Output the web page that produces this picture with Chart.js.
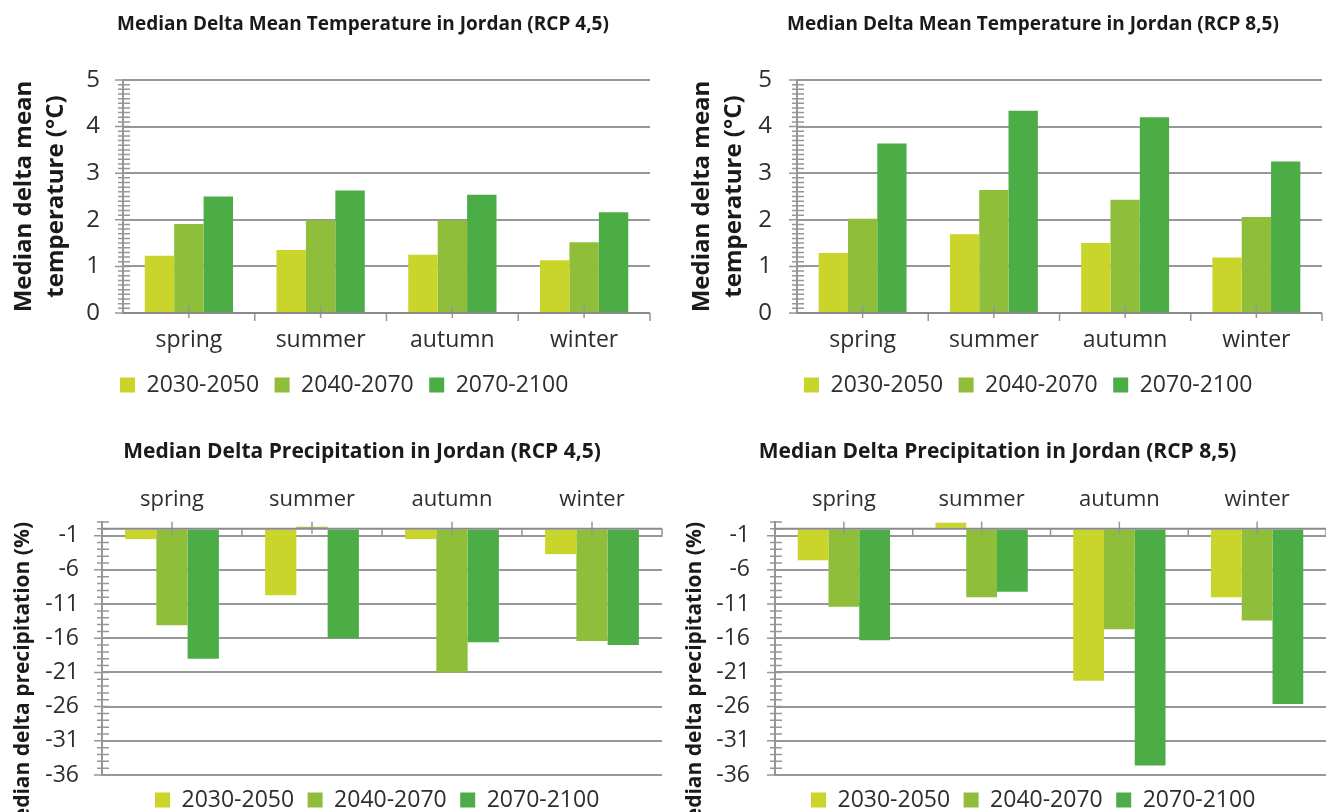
<!DOCTYPE html>
<html>
<head>
<meta charset="utf-8">
<title>Median delta temperature and precipitation in Jordan</title>
<script src="https://cdn.jsdelivr.net/npm/chart.js@4.4.1/dist/chart.umd.min.js"></script>
<style>
  html, body { margin: 0; padding: 0; background: #fff; }
  body { width: 1326px; height: 812px; position: relative; overflow: hidden; }
  .panel { position: absolute; overflow: hidden; }
  .panel canvas { position: absolute; left: 0; top: 0; }
  #p1 { left: 0; top: 0; width: 663px; height: 420px; }
  #p2 { left: 663px; top: 0; width: 663px; height: 420px; }
  #p3 { left: 0; top: 420px; width: 663px; height: 392px; }
  #p4 { left: 663px; top: 420px; width: 663px; height: 392px; }
</style>
</head>
<body>
<div class="panel" id="p1"><canvas id="c1" width="663" height="410"></canvas></div>
<div class="panel" id="p2"><canvas id="c2" width="663" height="410"></canvas></div>
<div class="panel" id="p3"><canvas id="c3" width="663" height="405"></canvas></div>
<div class="panel" id="p4"><canvas id="c4" width="663" height="405"></canvas></div>
<script>
const seasons = ['spring', 'summer', 'autumn', 'winter'];
const periods = ['2030-2050', '2040-2070', '2070-2100'];
const periodColors = ['#c9d52b', '#8fbe3b', '#4cad47'];

// median delta mean temperature (°C)
const temp45_2030 = [1.23, 1.35, 1.25, 1.13];
const temp45_2040 = [1.91, 1.99, 1.99, 1.52];
const temp45_2070 = [2.50, 2.63, 2.54, 2.16];
const temp85_2030 = [1.29, 1.69, 1.50, 1.19];
const temp85_2040 = [2.02, 2.64, 2.43, 2.06];
const temp85_2070 = [3.64, 4.34, 4.20, 3.25];

// median delta precipitation (%)
const prec45_2030 = [-1.5, -9.7, -1.5, -3.7];
const prec45_2040 = [-14.1, 0.3, -21.0, -16.4];
const prec45_2070 = [-19.0, -16.0, -16.6, -17.0];
const prec85_2030 = [-4.6, 0.9, -22.2, -10.0];
const prec85_2040 = [-11.4, -10.0, -14.7, -13.4];
const prec85_2070 = [-16.3, -9.2, -34.6, -25.6];

const tempTicks = [0, 1, 2, 3, 4, 5];
const precTicks = [-1, -6, -11, -16, -21, -26, -31, -36];

const GRID = '#979797';
const AXIS = '#969696';
const TEXT = '#2e2e2e';

Chart.defaults.font.family = "'Open Sans', sans-serif";
Chart.defaults.color = TEXT;

// minor tick positions (every 0.1 °C, every 1 %)
const tempMinor = [];
for (let i = 0; i <= 50; i++) tempMinor.push(Math.round(i) / 10);
const precMinor = [];
for (let v = 1; v >= -36; v--) precMinor.push(v);

// shifts title/legend, draws the zero line and the small tick marks
const axisMarks = {
  id: 'axisMarks',
  afterLayout(chart, args, opts) {
    const t = chart.titleBlock;
    const l = chart.legend;
    if (t) { t.left += opts.titleDx; t.right += opts.titleDx; }
    if (l) { l.left += opts.legendDx; l.right += opts.legendDx; }
  },
  afterDatasetsDraw(chart, args, opts) {
    const { ctx } = chart;
    const x = chart.scales.x;
    const y = chart.scales.y;
    const major = opts.kind === 'temp' ? tempTicks : precTicks;
    const zero = y.getPixelForValue(0);
    const ax = y.right;
    ctx.save();
    ctx.strokeStyle = AXIS;
    ctx.lineWidth = 1.5;
    ctx.beginPath();
    y.ticks.forEach((t) => {
      const py = y.getPixelForValue(t.value);
      ctx.moveTo(ax - (major.includes(t.value) ? 8 : 5), py);
      ctx.lineTo(ax + 7, py);
    });
    seasons.forEach((s, i) => {
      const c = x.getPixelForValue(i);
      ctx.moveTo(c, zero - 7);
      ctx.lineTo(c, zero + 5);
      const b = x.getPixelForValue(i + 0.5);
      ctx.moveTo(b, zero);
      ctx.lineTo(b, zero + 8);
    });
    ctx.stroke();
    ctx.lineWidth = 2;
    ctx.strokeStyle = '#8a8a8a';
    ctx.beginPath();
    ctx.moveTo(x.left, zero);
    ctx.lineTo(x.right, zero);
    ctx.stroke();
    ctx.restore();
  },
};

function drawChart(canvasId, p) {
  const isTemp = p.kind === 'temp';
  const major = isTemp ? tempTicks : precTicks;
  const minor = isTemp ? tempMinor : precMinor;
  return new Chart(document.getElementById(canvasId), {
    type: 'bar',
    data: {
      labels: seasons,
      datasets: periods.map((label, i) => ({
        label,
        data: p.series[i],
        backgroundColor: periodColors[i],
        borderWidth: 0,
        categoryPercentage: 0.67,
        barPercentage: 1,
      })),
    },
    plugins: [axisMarks],
    options: {
      responsive: false,
      animation: false,
      layout: { padding: { top: 0, left: 0, right: p.padRight, bottom: 3.5 } },
      plugins: {
        axisMarks: { kind: p.kind, titleDx: p.titleDx, legendDx: p.legendDx },
        title: {
          display: true,
          text: p.title,
          color: '#1a1a1a',
          font: { size: p.titleSize, weight: 'bold' },
          padding: p.titlePad,
        },
        legend: {
          position: 'bottom',
          align: 'start',
          fullSize: false,
          labels: {
            boxWidth: 15,
            boxHeight: 15,
            padding: p.legendPad,
            color: TEXT,
            font: { size: 23 },
          },
        },
        tooltip: { enabled: false },
      },
      scales: {
        x: {
          position: isTemp ? 'bottom' : 'top',
          grid: { display: false },
          border: { display: false },
          ticks: {
            autoSkip: false,
            maxRotation: 0,
            padding: isTemp ? 6 : 1,
            color: TEXT,
            font: { size: isTemp ? 23 : 22 },
          },
          afterFit: (s) => { s.height = 45; },
        },
        y: {
          min: isTemp ? 0 : -36,
          max: isTemp ? 5 : 1,
          afterBuildTicks: (s) => { s.ticks = minor.map((v) => ({ value: v })); },
          ticks: {
            autoSkip: false,
            padding: p.labelPad,
            color: TEXT,
            font: { size: isTemp ? 24 : 23 },
            callback: (v) => (major.includes(v) ? String(v) : ''),
          },
          grid: {
            drawTicks: false,
            lineWidth: 2,
            color: (c) => (c.tick && major.includes(c.tick.value) ? GRID : 'rgba(0,0,0,0)'),
          },
          border: { color: AXIS, width: 2 },
          title: {
            display: true,
            text: p.yTitle,
            align: isTemp ? 'center' : 'end',
            color: '#1a1a1a',
            font: { size: isTemp ? 24 : 21, weight: 'bold', lineHeight: isTemp ? 1.35 : 1.2 },
            padding: { top: p.yTitlePad, bottom: 0 },
          },
          afterFit: (s) => { s.width = p.axisX; },
        },
      },
    },
  });
}

const tempTitle = ['Median delta mean', 'temperature (°C)'];
const precTitle = 'Median delta precipitation (%)';

drawChart('c1', {
  kind: 'temp',
  title: 'Median Delta Mean Temperature in Jordan (RCP 4,5)',
  series: [temp45_2030, temp45_2040, temp45_2070],
  yTitle: tempTitle,
  axisX: 123, padRight: 13, labelPad: 23, yTitlePad: 8,
  titleSize: 19, titlePad: { top: 13.6, bottom: 43.6 }, legendPad: 15.5,
  titleDx: 38, legendDx: -18.5,
});

drawChart('c2', {
  kind: 'temp',
  title: 'Median Delta Mean Temperature in Jordan (RCP 8,5)',
  series: [temp85_2030, temp85_2040, temp85_2070],
  yTitle: tempTitle,
  axisX: 134, padRight: 4, labelPad: 25, yTitlePad: 23,
  titleSize: 19, titlePad: { top: 13.6, bottom: 43.6 }, legendPad: 15.5,
  titleDx: 40.5, legendDx: -8.5,
});

drawChart('c3', {
  kind: 'prec',
  title: 'Median Delta Precipitation in Jordan (RCP 4,5)',
  series: [prec45_2030, prec45_2040, prec45_2070],
  yTitle: precTitle,
  axisX: 102, padRight: 1, labelPad: 23, yTitlePad: 10,
  titleSize: 21, titlePad: { top: 19.4, bottom: 12.4 }, legendPad: 13.5,
  titleDx: 31, legendDx: 39.5,
});

drawChart('c4', {
  kind: 'prec',
  title: 'Median Delta Precipitation in Jordan (RCP 8,5)',
  series: [prec85_2030, prec85_2040, prec85_2070],
  yTitle: precTitle,
  axisX: 112, padRight: 0, labelPad: 25, yTitlePad: 19.4,
  titleSize: 21, titlePad: { top: 19.4, bottom: 12.4 }, legendPad: 13.5,
  titleDx: 3, legendDx: 22.5,
});
</script>
</body>
</html>
